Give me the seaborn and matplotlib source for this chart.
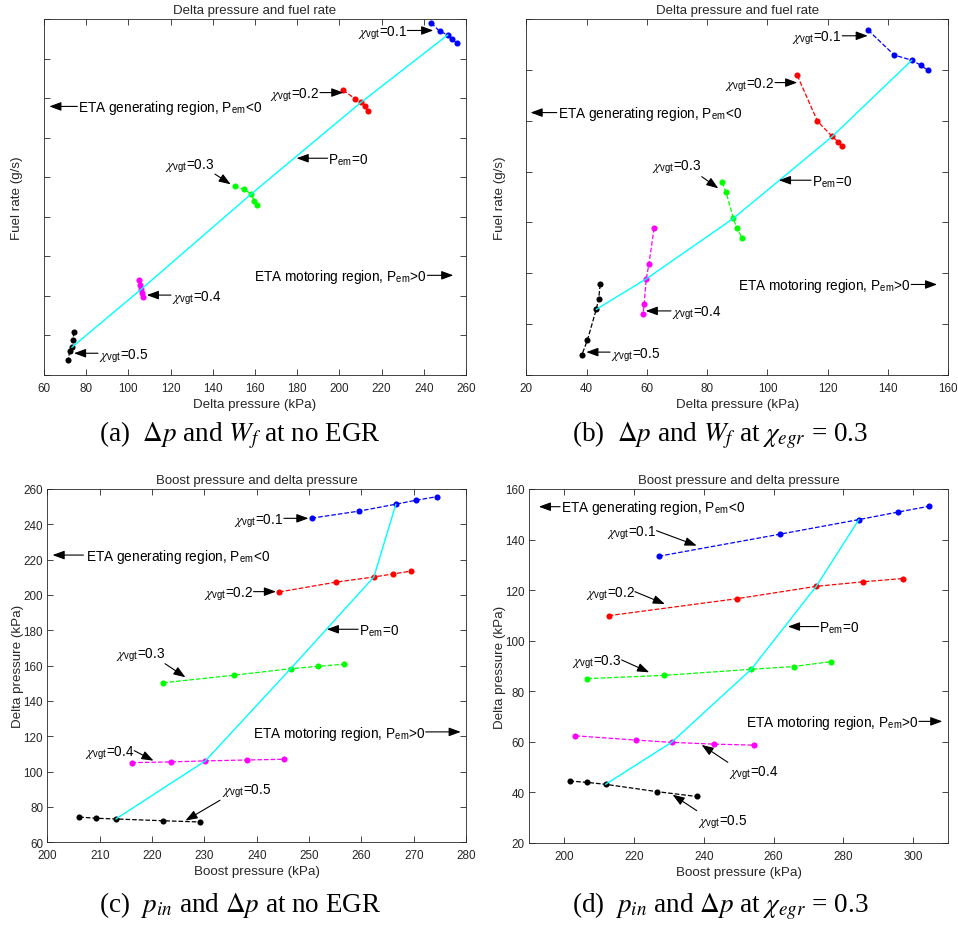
import matplotlib
matplotlib.use("Agg")
import matplotlib.pyplot as plt
from matplotlib.transforms import offset_copy
import numpy as np
import pandas as pd
import seaborn as sns

# ---------------------------------------------------------------------------
# Operating points, one row per VGT position (0.1 ... 0.5), five points each
# ---------------------------------------------------------------------------
vgt_positions = ["0.1", "0.2", "0.3", "0.4", "0.5"]
vgt_colors = ["#0000FF", "#FF0000", "#00FF00", "#FF00FF", "#000000"]

# No EGR
delta_p_no_egr = [
    [243.5, 247.5, 251.4, 253.6, 255.7],
    [201.7, 207.3, 210.2, 211.9, 213.5],
    [150.3, 154.6, 158.3, 159.6, 160.8],
    [105.1, 105.5, 106.1, 106.6, 107.0],
    [74.3, 73.6, 73.2, 72.2, 71.5],
]
fuel_no_egr = [
    [8.90, 8.69, 8.60, 8.49, 8.39],
    [7.20, 6.99, 6.89, 6.79, 6.68],
    [4.79, 4.69, 4.58, 4.39, 4.29],
    [2.40, 2.28, 2.17, 2.07, 1.98],
    [1.09, 0.89, 0.70, 0.60, 0.39],
]
boost_no_egr = [
    [250.5, 259.6, 266.6, 270.4, 274.5],
    [244.3, 255.2, 262.4, 266.0, 269.5],
    [222.1, 235.7, 246.5, 251.8, 256.6],
    [216.1, 223.6, 230.2, 238.2, 245.2],
    [206.1, 209.4, 213.1, 222.1, 229.2],
]

# EGR fraction 0.3
delta_p_egr = [
    [133.4, 142.1, 147.9, 150.9, 153.2],
    [109.9, 116.6, 121.5, 123.3, 124.6],
    [85.0, 86.3, 88.7, 89.8, 91.7],
    [62.4, 60.7, 59.8, 59.1, 58.7],
    [44.5, 44.0, 43.2, 40.3, 38.4],
]
fuel_egr = [
    [6.78, 6.29, 6.19, 6.09, 5.99],
    [5.89, 4.99, 4.69, 4.59, 4.50],
    [3.79, 3.59, 3.08, 2.89, 2.69],
    [2.89, 2.19, 1.89, 1.39, 1.19],
    [1.78, 1.49, 1.29, 0.69, 0.39],
]
boost_egr = [
    [227.1, 261.7, 284.4, 295.7, 304.6],
    [212.8, 249.4, 272.2, 285.6, 297.0],
    [206.7, 228.7, 253.6, 265.7, 276.3],
    [203.3, 220.5, 230.8, 243.0, 254.4],
    [201.6, 206.5, 211.9, 226.7, 238.0],
]

# index of the point in each sweep where the electric machine power is zero
PEM_ZERO_IDX = 2

AX_COLOR = "#262626"
sns.set_theme(style="ticks")
plt.rcParams.update({
    "font.family": ["Liberation Sans", "DejaVu Sans"],
    "mathtext.fontset": "stix",
    "axes.edgecolor": AX_COLOR,
    "axes.labelcolor": AX_COLOR,
    "axes.linewidth": 0.6,
    "xtick.color": AX_COLOR,
    "ytick.color": AX_COLOR,
    "xtick.direction": "in",
    "ytick.direction": "in",
    "xtick.major.size": 4,
    "ytick.major.size": 4,
    "xtick.major.width": 0.6,
    "ytick.major.width": 0.6,
    "xtick.top": True,
    "ytick.right": True,
    "xtick.labelsize": 8.4,
    "ytick.labelsize": 8.4,
    "text.color": AX_COLOR,
})

fig = plt.figure(figsize=(9.58, 9.29), dpi=100)
W, H = 958.0, 929.0


def add_axes(x0, y0, x1, y1):
    return fig.add_axes([x0 / W, 1 - y1 / H, (x1 - x0) / W, (y1 - y0) / H])


def sweep_frame(xs, ys):
    rows = []
    for pos, xrow, yrow in zip(vgt_positions, xs, ys):
        for k, (xv, yv) in enumerate(zip(xrow, yrow)):
            rows.append({"vgt": pos, "x": xv, "y": yv, "k": k})
    return pd.DataFrame(rows)


def draw_sweeps(ax, xs, ys):
    df = sweep_frame(xs, ys)
    sns.lineplot(data=df, x="x", y="y", hue="vgt", palette=vgt_colors,
                 hue_order=vgt_positions, sort=False, estimator=None,
                 units="vgt", linestyle="--", lw=0.9, marker="o",
                 markersize=4.4, markeredgewidth=0, legend=False, ax=ax,
                 zorder=3)
    zero = df[df["k"] == PEM_ZERO_IDX].iloc[::-1]
    sns.lineplot(data=zero, x="x", y="y", sort=False, estimator=None,
                 color="#00FFFF", lw=1.0, ax=ax, zorder=4)


def note(ax, text, tx, ty, ha, tail, head):
    ax.annotate("", xy=head, xytext=tail,
                arrowprops=dict(arrowstyle="-|>,head_length=0.6,head_width=0.22",
                                color="black", lw=0.8, shrinkA=0, shrinkB=0),
                zorder=6)
    tr = offset_copy(ax.transData, fig=fig, y=-3.4, units="points")
    ax.text(tx, ty, text, ha=ha, va="baseline", transform=tr,
            fontsize=9.8, color="black", zorder=6)


def chi(v):
    return r"$\chi_{\mathregular{vgt}}$=" + v


GEN = r"ETA generating region, P$_{\mathregular{em}}$<0"
MOT = r"ETA motoring region, P$_{\mathregular{em}}$>0"
ZERO = r"P$_{\mathregular{em}}$=0"


def style(ax, title, xlabel, ylabel, xlim, xticks, ylim, yticks,
          show_ylabels, ylab_x):
    ax.set_xlim(*xlim)
    ax.set_ylim(*ylim)
    ax.set_xticks(xticks)
    ax.set_yticks(yticks)
    if not show_ylabels:
        ax.set_yticklabels([])
    ax.tick_params(axis="x", pad=5)
    ax.tick_params(axis="y", pad=3)
    for s in ax.spines.values():
        s.set_visible(True)
    ax.set_title(title, fontsize=9.5, pad=4, color=AX_COLOR)
    ax.set_xlabel(xlabel, fontsize=9.6, labelpad=3)
    ax.set_ylabel(ylabel, fontsize=9.6)
    ax.yaxis.set_label_coords(ylab_x, 0.5)


# (a) delta pressure vs fuel rate, no EGR
ax = add_axes(44, 20, 466, 376)
draw_sweeps(ax, delta_p_no_egr, fuel_no_egr)
style(ax, "Delta pressure and fuel rate", "Delta pressure (kPa)",
      "Fuel rate (g/s)", (60, 260), np.arange(60, 261, 20), (0, 9),
      np.arange(0, 10, 1), False, -0.05)
note(ax, chi("0.1"), 232.0, 8.71, "right", (232.2, 8.71), (244.5, 8.71))
note(ax, chi("0.2"), 190.6, 7.14, "right", (190.8, 7.14), (201.9, 7.14))
note(ax, GEN, 76.3, 6.79, "left", (75.8, 6.79), (62.5, 6.79))
note(ax, ZERO, 194.8, 5.48, "left", (194.4, 5.48), (179.7, 5.48))
note(ax, chi("0.3"), 140.7, 5.36, "right", (141.0, 5.08), (148.5, 4.82))
note(ax, chi("0.4"), 120.5, 2.02, "left", (120.2, 2.02), (108.7, 2.02))
note(ax, MOT, 241.4, 2.52, "right", (241.7, 2.52), (254.0, 2.52))
note(ax, chi("0.5"), 85.9, 0.55, "left", (85.6, 0.55), (74.2, 0.55))

# (b) delta pressure vs fuel rate, EGR 0.3
ax = add_axes(526.3, 20, 948.3, 376)
draw_sweeps(ax, delta_p_egr, fuel_egr)
style(ax, "Delta pressure and fuel rate", "Delta pressure (kPa)",
      "Fuel rate (g/s)", (20, 160), np.arange(20, 161, 20), (0, 7),
      np.arange(0, 8, 1), False, -0.048)
note(ax, chi("0.1"), 124.5, 6.67, "right", (124.8, 6.67), (133.3, 6.67))
note(ax, chi("0.2"), 102.3, 5.75, "right", (102.5, 5.75), (109.9, 5.75))
note(ax, GEN, 30.4, 5.16, "left", (30.1, 5.16), (21.4, 5.16))
note(ax, ZERO, 114.8, 3.83, "left", (114.5, 3.83), (103.8, 3.83))
note(ax, chi("0.3"), 78.2, 4.13, "right", (78.2, 3.90), (83.7, 3.67))
note(ax, chi("0.4"), 68.3, 1.26, "left", (68.0, 1.26), (59.6, 1.26))
note(ax, MOT, 147.5, 1.78, "right", (147.7, 1.78), (156.3, 1.78))
note(ax, chi("0.5"), 48.1, 0.45, "left", (47.8, 0.45), (39.9, 0.45))

# (c) boost pressure vs delta pressure, no EGR
ax = add_axes(47.3, 490, 466, 843.3)
draw_sweeps(ax, boost_no_egr, delta_p_no_egr)
style(ax, "Boost pressure and delta pressure", "Boost pressure (kPa)",
      "Delta pressure (kPa)", (200, 280), np.arange(200, 281, 10), (60, 260),
      np.arange(60, 261, 20), True, -0.056)
note(ax, chi("0.1"), 245.0, 243.4, "right", (245.2, 243.4), (249.9, 243.4))
note(ax, GEN, 207.3, 222.6, "left", (206.9, 222.6), (201.0, 222.6))
note(ax, chi("0.2"), 239.3, 201.9, "right", (239.4, 201.9), (243.7, 201.9))
note(ax, ZERO, 259.5, 180.6, "left", (259.4, 180.6), (253.4, 180.6))
note(ax, chi("0.3"), 222.5, 167.5, "right", (222.5, 161.1), (226.4, 153.4))
note(ax, MOT, 272.2, 122.5, "right", (272.3, 122.5), (279.0, 122.5))
note(ax, chi("0.4"), 216.6, 111.9, "right", (216.6, 111.9), (220.3, 106.2))
note(ax, chi("0.5"), 233.3, 90.2, "left", (233.0, 83.8), (226.4, 72.3))

# (d) boost pressure vs delta pressure, EGR 0.3
ax = add_axes(529, 490, 948.3, 844)
draw_sweeps(ax, boost_egr, delta_p_egr)
style(ax, "Boost pressure and delta pressure", "Boost pressure (kPa)",
      "Delta pressure (kPa)", (190, 310), np.arange(200, 301, 20), (20, 160),
      np.arange(20, 161, 20), True, -0.055)
note(ax, GEN, 199.2, 153.0, "left", (198.9, 153.0), (192.8, 153.0))
note(ax, chi("0.1"), 226.5, 143.5, "right", (226.5, 143.5), (238.0, 137.6))
note(ax, chi("0.2"), 220.3, 119.6, "right", (220.3, 119.4), (228.9, 114.5))
note(ax, ZERO, 273.1, 105.6, "left", (272.9, 105.6), (264.1, 105.6))
note(ax, chi("0.3"), 216.5, 92.4, "right", (216.5, 92.4), (224.4, 87.5))
note(ax, MOT, 301.4, 68.1, "right", (301.6, 68.1), (308.3, 68.1))
note(ax, chi("0.4"), 247.3, 48.6, "left", (246.9, 51.9), (239.4, 58.8))
note(ax, chi("0.5"), 238.5, 29.5, "left", (238.0, 32.8), (231.1, 39.1))

# sub-figure captions
caption_kw = dict(ha="center", va="baseline", fontsize=19.5,
                  family=["Liberation Serif", "DejaVu Serif"], color="black")
fig.text(240 / W, 1 - 441 / H, r"(a)  $\Delta p$ and $W_f$ at no EGR", **caption_kw)
fig.text(720 / W, 1 - 441 / H, r"(b)  $\Delta p$ and $W_f$ at $\chi_{egr}$ = 0.3", **caption_kw)
fig.text(240 / W, 1 - 912 / H, r"(c)  $p_{in}$ and $\Delta p$ at no EGR", **caption_kw)
fig.text(720 / W, 1 - 912 / H, r"(d)  $p_{in}$ and $\Delta p$ at $\chi_{egr}$ = 0.3", **caption_kw)

fig.savefig("out.png", dpi=100, facecolor="white")
